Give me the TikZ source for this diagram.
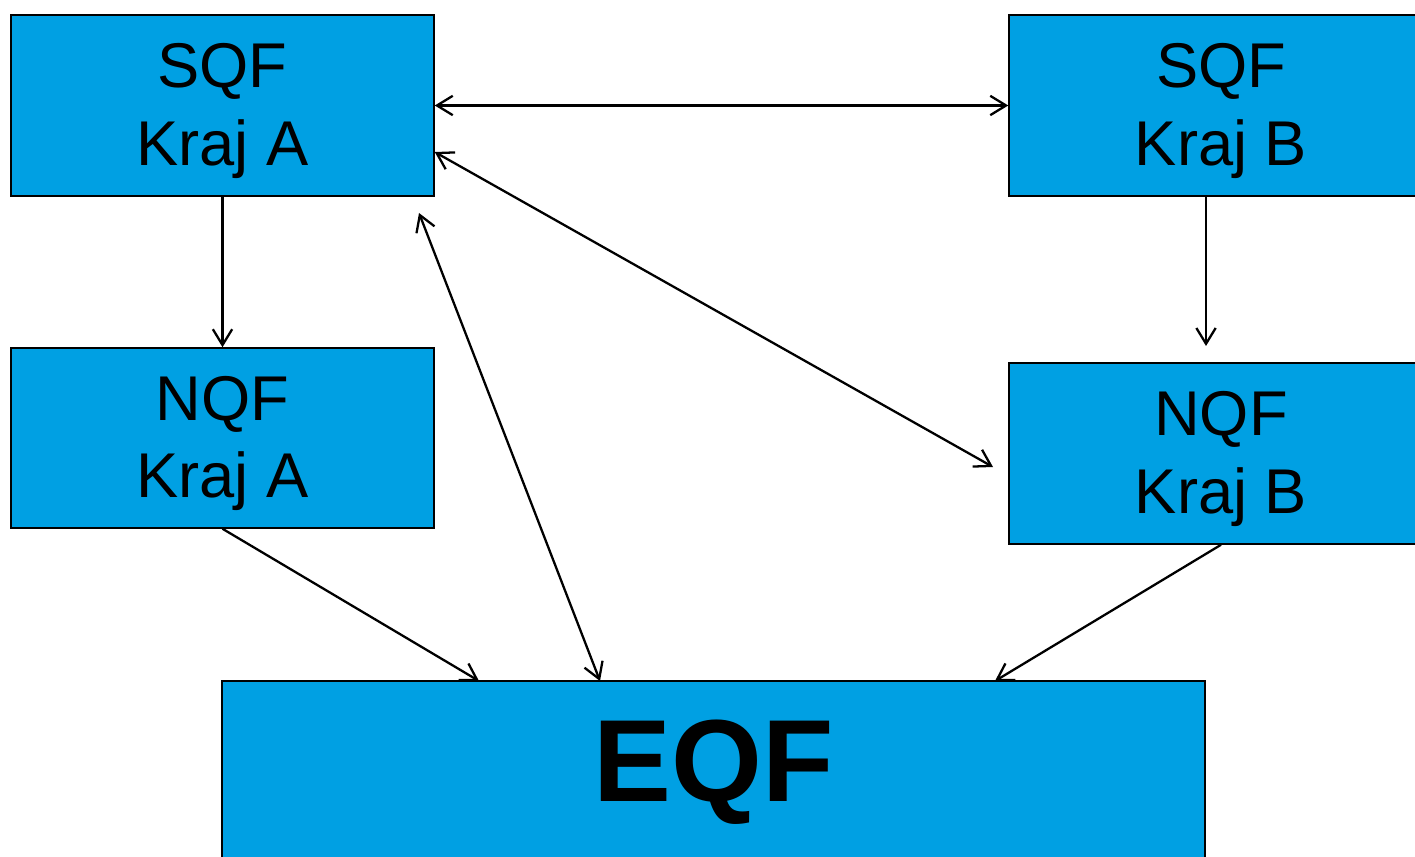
\documentclass[tikz,border=0pt]{standalone}
\usepackage{fontspec}
\setmainfont{Liberation Sans}
\usetikzlibrary{arrows.meta}
\definecolor{boxblue}{HTML}{00A0E3}
\newcommand{\toplift}{\rule{0pt}{31.5pt}}
\begin{document}
\begin{tikzpicture}[x=0.02cm,y=-0.02cm,
  box/.style={draw=black,line width=0.9pt,fill=boxblue,inner sep=0pt,
    minimum width=8.46cm,minimum height=3.62cm,align=center,
    font=\fontsize{36}{44}\selectfont},
  tip/.tip={Straight Barb[length=9pt,width=11pt,line width=1.3pt]},
  conn/.style={line width=1.3pt,-tip},
  dconn/.style={line width=1.3pt,tip-tip}]
\useasboundingbox (0,0) rectangle (1415,857);
\clip (0,0) rectangle (1415,857);
\fill[white] (0,0) rectangle (1415,857);
\node[box] (sqfa) at (222.5,105.5) {\toplift SQF\\Kraj A};
\node[box,minimum width=8.48cm] (sqfb) at (1221,105.5) {\toplift SQF\\Kraj B};
\node[box,minimum height=3.6cm] (nqfa) at (222.5,438) {\toplift NQF\\Kraj A};
\node[box,minimum width=8.48cm] (nqfb) at (1221,453.5) {\toplift NQF\\Kraj B};
\node[box,minimum width=19.66cm,minimum height=3.8cm] (eqf) at (713.5,776) {};
\node[font=\fontsize{66.5}{76}\bfseries\selectfont,inner sep=0pt] (eqftext) at (714,772) {EQF};
% connection points
\coordinate (a1) at (sqfa.east |- 0,152);
\coordinate (b1) at (993,467);
\coordinate (a2) at (419,213);
\coordinate (e2) at (600,681);
\coordinate (b2) at (1206,346);
\coordinate (e1) at (479,681);
\coordinate (e3) at (995,681);
\draw[dconn] (sqfa.east) -- (sqfb.west);
\draw[dconn] (a1) -- (b1);
\draw[dconn] (a2) -- (e2);
\draw[conn] (sqfa.south) -- (nqfa.north);
\draw[conn] (sqfb.south -| b2) -- (b2);
\draw[conn] (nqfa.south) -- (e1);
\draw[conn] (nqfb.south) -- (e3);
\end{tikzpicture}
\end{document}
